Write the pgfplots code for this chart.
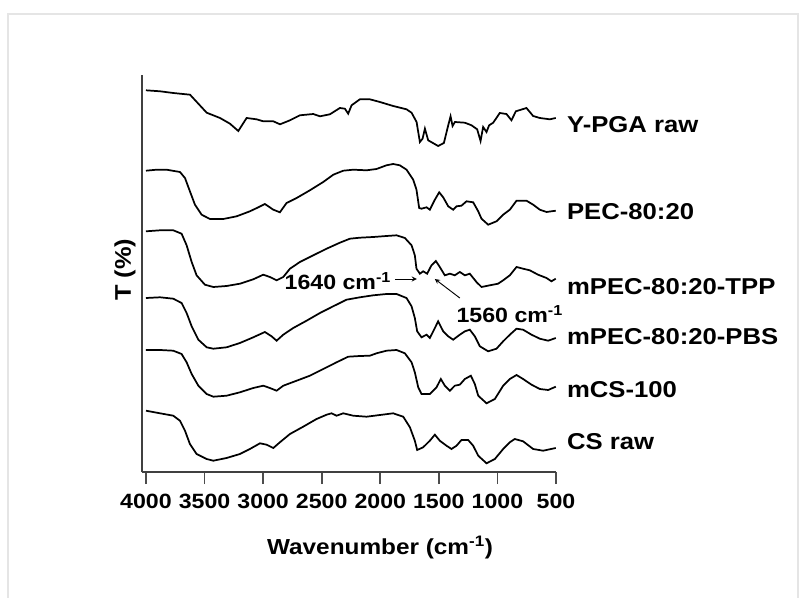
\documentclass[border=0pt]{standalone}
\usepackage{fontspec}
\setmainfont{Liberation Sans}[FakeStretch=1.12]
\usepackage{pgfplots}
\pgfplotsset{compat=1.18}
\begin{document}
\begin{tikzpicture}
\path[use as bounding box, fill=white] (0,0) rectangle (608.25pt,447.75pt);
\draw[gray!20, line width=1pt] (6pt,-5pt) -- (6pt,437.25pt) -- (598.5pt,437.25pt) -- (598.5pt,-5pt);
\begin{axis}[
  at={(106.5pt,93.75pt)}, anchor=south west,
  scale only axis, width=310.5pt, height=297.75pt,
  x dir=reverse, xmin=500, xmax=4034, ymin=125, ymax=522,
  axis x line*=bottom, axis y line*=left,
  x axis line style={-, line width=1.5pt, black!75},
  y axis line style={-, line width=1.5pt, black!75},
  xtick={500,1000,...,4000}, ytick=\empty,
  tick align=outside, major tick length=9pt,
  tick style={line width=1.2pt, black!70},
  /pgf/number format/assume math mode=true,
  /pgf/number format/1000 sep={},
  xticklabel style={font=\bfseries\fontsize{15.5}{18}\selectfont, yshift=-4pt},
  xlabel={Wavenumber (cm\textsuperscript{-1})},
  xlabel style={at={(axis description cs:0.575,-0.191)}, anchor=center, font=\bfseries\fontsize{16.3}{19}\selectfont},
  ylabel={T (\%)},
  ylabel style={at={(axis description cs:-0.041,0.509)}, anchor=center, rotate=0, font=\bfseries\fontsize{17}{19}\selectfont},
  clip=false,
  cycle list={{black, solid}},
  every axis plot/.append style={line width=1.3pt, black, solid, no markers},
]
% Y-PGA raw
\addplot coordinates {(4000,506.7)(3880,505.7)(3767,504)(3624,502.3)(3553,493.3)(3482,484.3)(3368,479)(3283,473.3)(3212,466)(3141,479)(3056,477.7)(2999,475.7)(2913,475.7)(2856,472.7)(2771,476.7)(2686,481.7)(2572,483)(2515,480.7)(2430,482.7)(2345,489)(2302,488.3)(2274,483.3)(2245,491.7)(2174,497.7)(2089,497.7)(2003,495)(1890,491)(1776,487.7)(1733,484.3)(1690,475)(1662,455)(1639,458.3)(1619,468.3)(1591,456.7)(1506,451)(1457,454)(1420,471.7)(1400,480.7)(1383,471)(1363,475)(1278,474.3)(1221,471.7)(1173,467.7)(1144,456)(1122,470)(1093,465)(1071,471.7)(1036,474.3)(980,484)(923,483)(880,476.7)(843,485.7)(752,489)(695,481)(638,479)(553,477.7)(502,479)};
% PEC-80:20
\addplot coordinates {(4000,426.3)(3909,427.3)(3824,427.3)(3710,425)(3667,419)(3625,405.7)(3582,392.3)(3525,382.3)(3454,378)(3340,378)(3226,380.7)(3113,385.7)(3041,389.7)(2985,393)(2913,387.3)(2857,384.7)(2800,394)(2714,399)(2601,406.7)(2487,415)(2401,422.3)(2316,426.3)(2231,427.3)(2117,426.7)(2032,428)(1947,431.7)(1890,433)(1833,431.7)(1776,427.3)(1719,417.3)(1691,407.3)(1668,389)(1648,388.3)(1605,389.7)(1577,387.3)(1534,397.3)(1497,404.7)(1463,399.7)(1420,390.7)(1378,387.3)(1349,390.7)(1307,391.3)(1264,395.7)(1207,394.7)(1164,385.7)(1136,378.3)(1079,372.3)(1008,375.7)(951,382.3)(894,387.3)(837,396.3)(752,396.3)(695,392.3)(638,387.3)(581,385)(502,386.3)};
% mPEC-80:20-TPP
\addplot coordinates {(4000,365.7)(3880,366.7)(3767,366.7)(3696,363.3)(3653,351.7)(3610,335)(3568,321.7)(3497,312.3)(3425,310)(3312,311)(3198,313.3)(3084,317.7)(2999,322.3)(2942,320)(2885,316.7)(2828,320)(2771,328.3)(2686,335)(2572,341.7)(2458,348.3)(2345,354.3)(2259,358.3)(2174,359.3)(2060,360)(1947,361)(1861,361.7)(1790,359)(1733,351.7)(1705,341.7)(1691,328.3)(1662,323.3)(1634,325.7)(1600,323.3)(1563,331.7)(1526,336)(1492,330)(1449,321.7)(1406,323.3)(1364,321.7)(1321,325)(1278,321.7)(1236,323.3)(1179,315)(1136,310)(1065,311.7)(994,313.3)(951,316.7)(894,321.7)(837,330)(781,328.3)(724,326.7)(653,322.3)(581,319)(539,315.7)(502,318.3)};
% mPEC-80:20-PBS
\addplot coordinates {(4000,299)(3880,299.7)(3767,298.3)(3696,294)(3653,284)(3610,270.7)(3553,257.3)(3482,249.7)(3425,248.3)(3312,249.7)(3198,254)(3084,259.7)(2985,265)(2928,260.7)(2885,256.3)(2828,262.3)(2743,269)(2629,276.3)(2515,284)(2402,290.7)(2288,297.3)(2174,299.7)(2060,301.7)(1947,303)(1861,303)(1776,299)(1733,290.7)(1705,279)(1685,265.7)(1648,259.7)(1605,262.3)(1577,259)(1534,269)(1506,275.7)(1463,265.7)(1420,260.7)(1378,257.3)(1321,262.3)(1278,265.7)(1236,267.3)(1193,260.7)(1150,250.7)(1079,245.7)(1008,248.3)(951,255.7)(894,262.3)(837,268.3)(781,267.3)(709,262.3)(638,258.3)(567,256.3)(502,259)};
% mCS-100
\addplot coordinates {(4000,247)(3880,247)(3767,246.3)(3696,243)(3653,234.7)(3610,223)(3553,211.3)(3482,203)(3425,200.3)(3312,201.3)(3198,204.7)(3084,209)(2999,211.3)(2942,209)(2885,206.3)(2828,211.3)(2714,216.3)(2601,221.3)(2487,228)(2373,234.7)(2274,240.3)(2174,241)(2089,241.3)(2032,243.7)(1947,246.3)(1861,247)(1790,243.7)(1733,234.7)(1705,224.7)(1676,209.7)(1648,203)(1577,203)(1520,209.7)(1483,218)(1449,211.3)(1406,206.3)(1364,211.3)(1321,212.3)(1278,218)(1227,221.3)(1193,213)(1164,201.3)(1093,193.7)(1022,198)(951,211.3)(894,218)(837,222)(781,218)(709,212.3)(638,208)(567,207)(502,210.3)};
% CS raw
\addplot coordinates {(4000,186.3)(3880,183.7)(3767,181.3)(3710,176.3)(3667,166.3)(3625,153)(3568,143)(3482,138)(3425,136.3)(3312,139)(3198,143)(3113,148)(3027,153.7)(2970,152.3)(2913,149)(2857,154.7)(2771,163)(2658,170.3)(2544,178)(2458,182.3)(2416,183.7)(2373,181.3)(2316,183.7)(2231,181.3)(2117,180.3)(2003,182)(1890,183.7)(1804,180.3)(1747,169.7)(1705,156.3)(1685,147)(1634,149.7)(1577,156.3)(1534,162.3)(1492,156.3)(1435,151.3)(1392,148)(1349,151.3)(1307,157)(1250,157)(1207,151.3)(1164,141.3)(1093,133.7)(1022,138)(951,148)(894,154.7)(852,158)(781,155.7)(695,148)(610,146.3)(502,149)};
% series labels
\begin{scope}[every node/.style={anchor=west, inner sep=0pt, font=\bfseries\fontsize{17.2}{19}\selectfont}]
\node at (axis cs:408,472) {Y-PGA raw};
\node at (axis cs:408,385) {PEC-80:20};
\node at (axis cs:408,310) {mPEC-80:20-TPP};
\node at (axis cs:408,260) {mPEC-80:20-PBS};
\node at (axis cs:408,207) {mCS-100};
\node at (axis cs:408,155) {CS raw};
\end{scope}
% annotations
\node[font=\bfseries\fontsize{15.5}{17}\selectfont, inner sep=0pt] at (axis cs:2362,316) {1640 cm\textsuperscript{-1}};
\draw[-stealth, line width=0.7pt] (axis cs:1875,318) -- (axis cs:1688,318);
\node[font=\bfseries\fontsize{15.5}{17}\selectfont, inner sep=0pt] at (axis cs:894,283) {1560 cm\textsuperscript{-1}};
\draw[-stealth, line width=0.7pt] (axis cs:1321,299) -- (axis cs:1534,318);
\end{axis}
\end{tikzpicture}
\end{document}
